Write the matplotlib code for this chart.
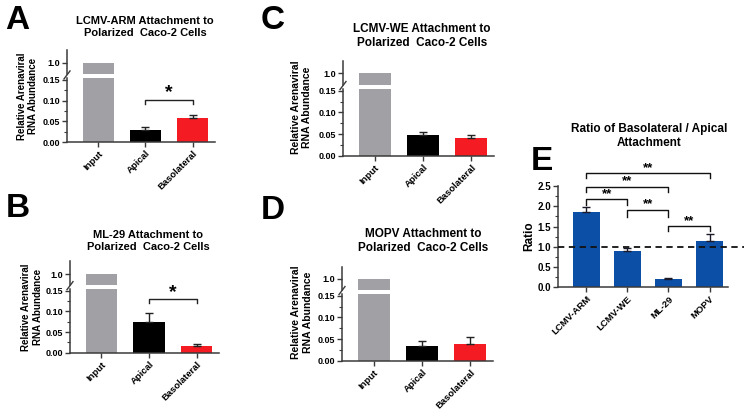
import numpy as np
import matplotlib
matplotlib.use("Agg")
import matplotlib.pyplot as plt
from matplotlib.ticker import MultipleLocator, FixedLocator, FormatStrFormatter

plt.rcParams['font.family'] = ['Liberation Sans', 'DejaVu Sans']
plt.rcParams['font.weight'] = 'bold'

W, H = 746, 409

# ---- data ----
groups = ["Input", "Apical", "Basolateral"]
group_colors = ["#a1a1a5", "#000000", "#f41c22"]

arm_mean = [1.0, 0.030, 0.057]
arm_top = [1.0, 0.036, 0.065]
ml29_mean = [1.0, 0.075, 0.016]
ml29_top = [1.0, 0.095, 0.020]
we_mean = [1.0, 0.048, 0.042]
we_top = [1.0, 0.055, 0.047]
mopv_mean = [1.0, 0.035, 0.038]
mopv_top = [1.0, 0.045, 0.054]

viruses = ["LCMV-ARM", "LCMV-WE", "ML-29", "MOPV"]
ratio_mean = [1.86, 0.89, 0.20, 1.15]
ratio_top = [1.97, 0.98, 0.23, 1.31]
# (left bar, right bar, bracket height, tick end)
ratio_sig = [(0, 3, 2.81, 2.69), (0, 2, 2.48, 2.36), (0, 1, 2.17, 2.03),
             (1, 2, 1.92, 1.73), (2, 3, 1.51, 1.39)]

fig = plt.figure(figsize=(W / 100, H / 100), dpi=100)


def ax_px(left, top, right, bottom):
    return fig.add_axes([left / W, 1 - bottom / H, (right - left) / W, (bottom - top) / H])


def style(ax, fs=6.5, xfs=6.8):
    for s in ['top', 'right']:
        ax.spines[s].set_visible(False)
    for s in ['left', 'bottom']:
        ax.spines[s].set_color('#3a3a3a')
        ax.spines[s].set_linewidth(1.1)
    ax.tick_params(length=3.5, width=1, color='#3a3a3a', pad=1.5)
    ax.tick_params(axis='y', labelsize=fs)
    ax.tick_params(axis='x', labelsize=xfs)
    ax.tick_params(which='minor', length=2, width=0.8, color='#3a3a3a')
    for lbl in ax.get_yticklabels() + ax.get_xticklabels():
        lbl.set_fontweight('bold')


def attach_panel(x0, x1, y_top, y_one, y_zero, y_15, mean, top, letter, letter_xy,
                 title, title_xy, ylab_xy, sig=None, tfs=8, lfs=7):
    # lower part 0 - 0.155
    px_per = (y_zero - y_15) / 0.15
    lo_top = y_zero - 0.155 * px_per
    axb = ax_px(x0, lo_top, x1, y_zero)
    x = np.arange(len(groups))
    axb.bar(x, mean, width=0.66, color=group_colors, zorder=2)
    errs = np.array(top) - np.array(mean)
    axb.errorbar(x[1:], mean[1:], yerr=[np.zeros(2), errs[1:]], fmt='none',
                 ecolor='#222222', elinewidth=1, capsize=3, capthick=1, zorder=3)
    axb.set_xlim(-0.66, 2.47)
    axb.set_ylim(0, 0.155)
    axb.yaxis.set_major_locator(FixedLocator([0, 0.05, 0.10, 0.15]))
    axb.yaxis.set_minor_locator(FixedLocator([0.025, 0.075, 0.125]))
    axb.yaxis.set_major_formatter(FormatStrFormatter('%.2f'))
    axb.set_xticks(x)
    axb.set_xticklabels(groups, rotation=45, ha='right', rotation_mode='anchor')
    style(axb)

    # upper part around 1.0
    brk_bot = lo_top - 4
    axt = ax_px(x0, y_top, x1, brk_bot)
    frac = (y_one - y_top) / (brk_bot - y_top)
    lo = 0.8
    hi = (1 - frac * lo) / (1 - frac)
    axt.bar(x, mean, width=0.66, color=group_colors, zorder=2)
    axt.set_xlim(-0.66, 2.47)
    axt.set_ylim(lo, hi)
    axt.set_yticks([1.0])
    axt.set_yticklabels(["1.0"])
    axt.set_xticks([])
    style(axt)
    axt.spines['bottom'].set_visible(False)

    # break mark on the axis
    fig.add_artist(plt.Line2D([(x0 - 3) / W, (x0 + 3) / W],
                              [1 - (brk_bot + 5) / H, 1 - (brk_bot - 3) / H],
                              color='#3a3a3a', lw=1))

    if sig is not None:
        i, j, yb, yt = sig
        axb.plot([i, i, j, j], [yt, yb, yb, yt], color='#222222', lw=1, clip_on=False)
        axb.text((i + j) / 2, yb - 0.004, "*", ha='center', va='bottom', fontsize=14,
                 fontweight='bold')

    fig.text(letter_xy[0] / W, 1 - letter_xy[1] / H, letter, fontsize=24,
             fontweight='bold', ha='left', va='top')
    fig.text(title_xy[0] / W, 1 - title_xy[1] / H, title, fontsize=tfs,
             fontweight='bold', ha='center', va='center', linespacing=1.25)
    fig.text(ylab_xy[0] / W, 1 - ylab_xy[1] / H, "Relative Arenaviral\nRNA Abundance",
             fontsize=lfs, fontweight='bold', rotation=90, ha='center', va='center',
             linespacing=1.15)


attach_panel(67, 215, 50, 63, 142, 80, arm_mean, arm_top, "A", (5, 5),
             "LCMV-ARM Attachment to\nPolarized  Caco-2 Cells", (145, 27), (27.5, 96),
             sig=(1, 2, 0.102, 0.092))
attach_panel(70, 219, 261, 274, 352.7, 290.7, ml29_mean, ml29_top, "B", (6, 193),
             "ML-29 Attachment to\nPolarized  Caco-2 Cells", (148, 241), (32, 307),
             sig=(1, 2, 0.129, 0.121))
attach_panel(343, 494, 61, 73.5, 155.7, 90.7, we_mean, we_top, "C", (261, 5),
             "LCMV-WE Attachment to\nPolarized  Caco-2 Cells", (422, 36), (301.5, 107.5),
             tfs=8.5, lfs=7.5)
attach_panel(342, 493, 267, 279, 360.7, 295.7, mopv_mean, mopv_top, "D", (261, 195),
             "MOPV Attachment to\nPolarized  Caco-2 Cells", (423, 241), (302, 312.5),
             tfs=8.5, lfs=7.5)

# ---- panel E ----
axe = ax_px(558, 186, 728, 287.3)
xe = np.arange(len(viruses))
axe.bar(xe, ratio_mean, width=0.65, color="#0b4fa6", zorder=2)
e_err = np.array(ratio_top) - np.array(ratio_mean)
axe.errorbar(xe, ratio_mean, yerr=[np.zeros(len(xe)), e_err], fmt='none',
             ecolor='#1a1a2a', elinewidth=1, capsize=3, capthick=1, zorder=3)
axe.plot([-0.69, 3.84], [1.0, 1.0], color='#111111', lw=1.3, ls=(0, (3.5, 2.5)),
         clip_on=False, zorder=4)
axe.set_xlim(-0.69, 3.45)
axe.set_ylim(0, 2.5)
axe.yaxis.set_major_locator(MultipleLocator(0.5))
axe.yaxis.set_minor_locator(MultipleLocator(0.25))
axe.yaxis.set_major_formatter(FormatStrFormatter('%.1f'))
axe.set_xticks(xe)
axe.set_xticklabels(viruses, rotation=45, ha='right', rotation_mode='anchor')
style(axe, fs=7, xfs=6.8)
for i, j, yb, yt in ratio_sig:
    axe.plot([i, i, j, j], [yt, yb, yb, yt], color='#111111', lw=1, clip_on=False)
    axe.text((i + j) / 2, yb - 0.02, "**", ha='center', va='bottom', fontsize=9.5,
             fontweight='bold')
axe.set_ylabel("Ratio", fontsize=8.5, fontweight='bold', labelpad=1.5)
fig.text(531 / W, 1 - 146 / H, "E", fontsize=24, fontweight='bold', ha='left', va='top')
fig.text(649 / W, 1 - 136 / H, "Ratio of Basolateral / Apical\nAttachment", fontsize=8.5,
         fontweight='bold', ha='center', va='center', linespacing=1.3)

fig.savefig("out.png", dpi=100)
